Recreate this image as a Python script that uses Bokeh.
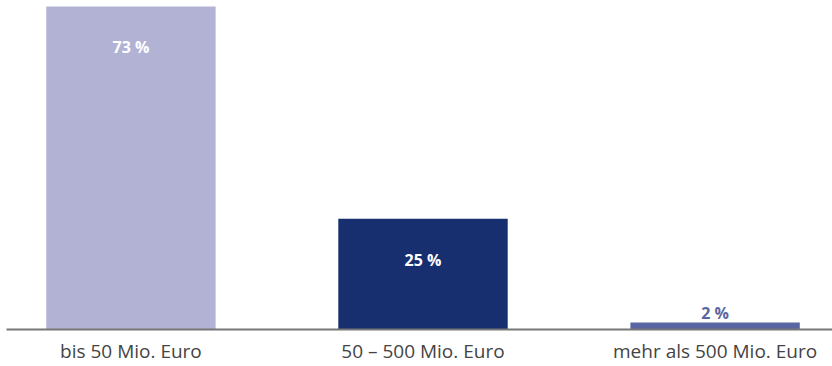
from bokeh.plotting import figure
from bokeh.models import Range1d, FixedTicker, ColumnDataSource
from bokeh.core.properties import value
from bokeh.embed import file_html
from bokeh.resources import INLINE

categories = ["bis 50 Mio. Euro", "50 – 500 Mio. Euro", "mehr als 500 Mio. Euro"]
shares = [73, 25, 1.6]
labels = ["73 %", "25 %", "2 %"]
colors = ["#b2b3d4", "#172f6e", "#5a66a2"]

W, H = 832, 366
left, bottom_px = 6, 35
frame_h = H - bottom_px
y_end = 74.35
px = y_end / frame_h  # data units per pixel

xs = list(range(len(categories)))

p = figure(width=W, height=H, output_backend="svg", toolbar_location=None,
           x_range=Range1d(-0.426, 2.402), y_range=Range1d(0, y_end),
           min_border_left=left, min_border_right=0, min_border_top=0,
           min_border_bottom=bottom_px, outline_line_color=None)
p.grid.visible = False
p.yaxis.visible = False
p.background_fill_color = "white"
p.border_fill_color = "white"

src = ColumnDataSource(dict(x=xs, top=shares, color=colors, label=labels))
p.vbar(x="x", top="top", width=0.58, bottom=0, color="color", source=src, line_color=None)

# labels inside the big bars, above the small one
inside = [i for i, v in enumerate(shares) if v >= 10]
outside = [i for i, v in enumerate(shares) if v < 10]
p.text(x=[xs[i] for i in inside], y=[shares[i] - 41 * px for i in inside],
       text=[labels[i] for i in inside], text_color="white",
       text_font=value("Open Sans"), text_font_style="bold", text_font_size="16px",
       text_align="center", text_baseline="middle")
p.text(x=[xs[i] for i in outside], y=[shares[i] + 9 * px for i in outside],
       text=[labels[i] for i in outside], text_color=[colors[i] for i in outside],
       text_font=value("Open Sans"), text_font_style="bold", text_font_size="16px",
       text_align="center", text_baseline="middle")

ax = p.xaxis[0]
ax.ticker = FixedTicker(ticks=xs)
ax.major_label_overrides = {i: c for i, c in zip(xs, categories)}
ax.axis_line_color = "#777777"
ax.axis_line_width = 2
ax.major_tick_line_color = None
ax.minor_tick_line_color = None
ax.major_tick_out = 0
ax.major_tick_in = 0
ax.major_label_standoff = 8
ax.major_label_text_font = "Open Sans"
ax.major_label_text_font_size = "19px"
ax.major_label_text_color = "#444444"

open("out.html", "w").write(file_html(p, INLINE))
